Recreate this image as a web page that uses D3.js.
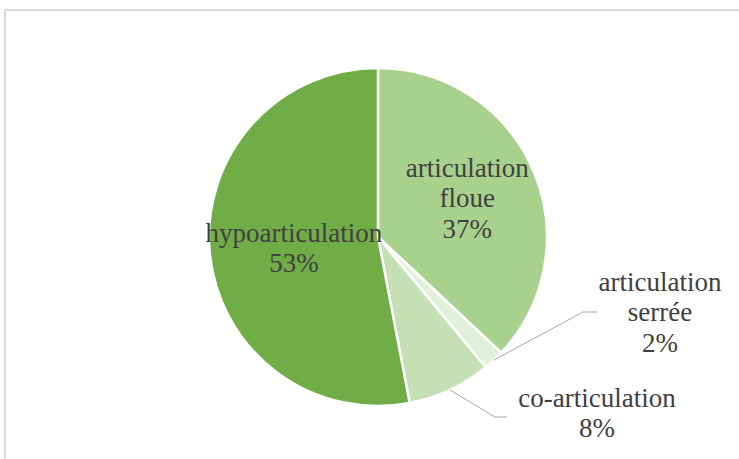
<!DOCTYPE html>
<html>
<head>
<meta charset="utf-8">
<script src="https://cdn.jsdelivr.net/npm/d3@7"></script>
<style>
  body { margin: 0; background: #fff; }
</style>
</head>
<body>
<div id="chartDiv"></div>
<script>
// data
var categories = ["articulation floue", "articulation serrée", "co-articulation", "hypoarticulation"];
var values = [37, 2, 8, 53];
var labelLines = [["articulation", "floue"], ["articulation", "serrée"], ["co-articulation"], ["hypoarticulation"]];
var colors = ["#a9d18e", "#e2f0d9", "#c5e0b4", "#70ad47"];

var width = 739,
    height = 459,
    cx = 378, cy = 237,
    radius = 169,
    lineH = 30.5,
    fontFamily = "'Liberation Serif', 'Times New Roman', 'DejaVu Serif', serif";

var svg = d3.select("#chartDiv")
    .append("svg")
    .attr("width", width)
    .attr("height", height);

// chart frame (only top and left edge visible)
svg.append("path")
    .attr("d", "M5,459 L5,10 L739,10")
    .attr("fill", "none")
    .attr("stroke", "#d9d9d9")
    .attr("stroke-width", 2);

var pie = d3.pie().sort(null).value(function (d) { return d; });
var arcs = pie(values);
var arc = d3.arc().innerRadius(0).outerRadius(radius);

var g = svg.append("g")
    .attr("transform", "translate(" + cx + "," + cy + ")");

g.selectAll("path.slice")
    .data(arcs)
    .enter().append("path")
    .attr("class", "slice")
    .attr("d", arc)
    .attr("fill", function (d, i) { return colors[i]; })
    .attr("stroke", "#fff")
    .attr("stroke-width", 2.5);

// label placement: inside (fraction of radius) or outside (elbow + text anchor)
var labelSpec = [
    { inside: true, r: 0.575, dy: 0 },
    { inside: false, elbow: [205, 75], end: [219, 75], text: [282, 75] },
    { inside: false, elbow: [117, 180], end: [129, 180], text: [219, 176] },
    { inside: true, r: 0.5, dy: 3 }
];

function midPoint(d, r) {
    var a = (d.startAngle + d.endAngle) / 2;
    return [Math.sin(a) * r, -Math.cos(a) * r];
}

arcs.forEach(function (d, i) {
    var spec = labelSpec[i];
    var lines = labelLines[i].concat([values[i] + "%"]);
    var pos;
    if (spec.inside) {
        pos = midPoint(d, radius * spec.r);
        pos[1] += spec.dy;
    } else {
        var start = midPoint(d, radius);
        g.append("polyline")
            .attr("points", [start, spec.elbow, spec.end].map(function (p) { return p.join(","); }).join(" "))
            .attr("fill", "none")
            .attr("stroke", "#a6a6a6")
            .attr("stroke-width", 1);
        pos = spec.text;
    }
    var t = g.append("text")
        .attr("text-anchor", "middle")
        .attr("font-family", fontFamily)
        .attr("font-size", 27)
        .attr("fill", "#404040");
    var top = pos[1] - (lines.length - 1) * lineH / 2 + 9;
    lines.forEach(function (s, k) {
        t.append("tspan")
            .attr("x", pos[0])
            .attr("y", top + k * lineH)
            .text(s);
    });
});
</script>
</body>
</html>
